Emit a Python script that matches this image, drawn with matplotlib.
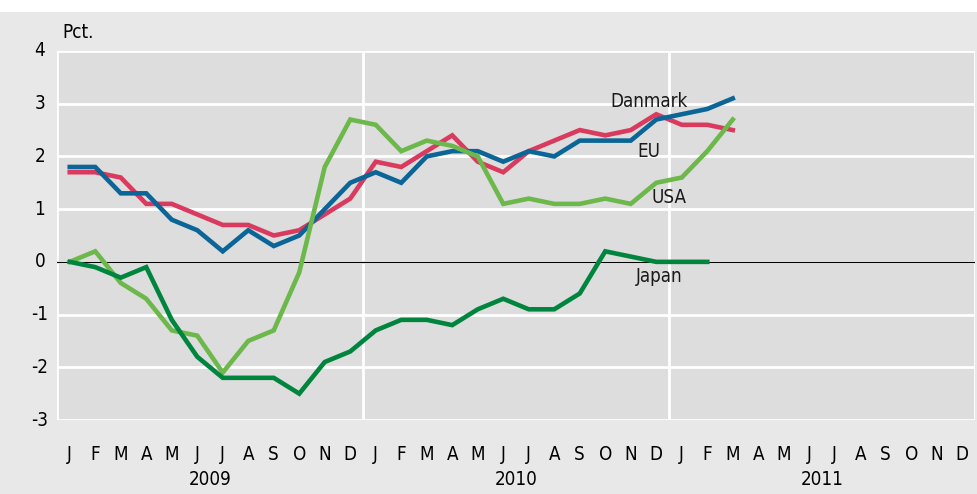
import matplotlib
matplotlib.use("Agg")
import matplotlib.pyplot as plt
from matplotlib.patches import Rectangle
import matplotlib.transforms as mtransforms

plt.rcParams['font.family'] = ['DejaVu Sans']
plt.rcParams['font.stretch'] = 'condensed'

months = ["J", "F", "M", "A", "M", "J", "J", "A", "S", "O", "N", "D"] * 3
years = ["2009", "2010", "2011"]
yticks = [-3, -2, -1, 0, 1, 2, 3, 4]

danmark = [1.7, 1.7, 1.6, 1.1, 1.1, 0.9, 0.7, 0.7, 0.5, 0.6, 0.9, 1.2,
           1.9, 1.8, 2.1, 2.4, 1.9, 1.7, 2.1, 2.3, 2.5, 2.4, 2.5, 2.8,
           2.6, 2.6, 2.5]
eu = [1.8, 1.8, 1.3, 1.3, 0.8, 0.6, 0.2, 0.6, 0.3, 0.5, 1.0, 1.5,
      1.7, 1.5, 2.0, 2.1, 2.1, 1.9, 2.1, 2.0, 2.3, 2.3, 2.3, 2.7,
      2.8, 2.9, 3.1]
usa = [0.0, 0.2, -0.4, -0.7, -1.3, -1.4, -2.1, -1.5, -1.3, -0.2, 1.8, 2.7,
       2.6, 2.1, 2.3, 2.2, 2.0, 1.1, 1.2, 1.1, 1.1, 1.2, 1.1, 1.5,
       1.6, 2.1, 2.7]
japan = [0.0, -0.1, -0.3, -0.1, -1.1, -1.8, -2.2, -2.2, -2.2, -2.5, -1.9, -1.7,
         -1.3, -1.1, -1.1, -1.2, -0.9, -0.7, -0.9, -0.9, -0.6, 0.2, 0.1, 0.0,
         0.0, 0.0]

series = [
    ("Danmark", danmark, "#d93a5e"),
    ("EU", eu, "#0b6597"),
    ("USA", usa, "#6cb84b"),
    ("Japan", japan, "#00853f"),
]
labels_pos = {"Danmark": (22.7, 3.05), "EU": (22.7, 2.1), "USA": (23.5, 1.22), "Japan": (23.1, -0.28)}

fig = plt.figure(figsize=(9.78, 4.94), dpi=100, facecolor="white")
fig.patches.append(Rectangle((0, 0), 1, 1 - 12 / 494, transform=fig.transFigure,
                             facecolor="#e8e8e8", edgecolor="none", zorder=-10))

ax = fig.add_axes([57 / 978, 1 - 420 / 494, (975 - 57) / 978, (420 - 51) / 494])
ax.set_facecolor("#dddddd")
ax.set_xlim(-0.5, 35.5)
ax.set_ylim(-3, 4)

for y in yticks:
    ax.axhline(y, color="white", lw=2, zorder=1)
for xv in [-0.5, 11.5, 23.5, 35.5]:
    ax.axvline(xv, color="white", lw=2, zorder=1)
ax.axhline(0, color="black", lw=0.9, zorder=2)

for name, vals, col in series:
    ax.plot(range(len(vals)), vals, color=col, lw=3.3, zorder=3, solid_joinstyle="miter")
    lx, ly = labels_pos[name]
    ax.text(lx, ly, name, fontsize=13.5, color="#1a1a1a", ha="center", va="center", zorder=4)

for s in ax.spines.values():
    s.set_visible(False)

ax.set_yticks(yticks)
ax.set_yticklabels([])
trans = mtransforms.blended_transform_factory(fig.transFigure, ax.transData)
for v in yticks:
    fig.text(40 / 978, v, str(v), transform=trans, fontsize=13.5, ha="center", va="center")

ax.set_xticks(range(36))
ax.set_xticklabels(months, fontsize=13.5)
ax.tick_params(length=0)
ax.tick_params(axis="x", pad=18)

for i, yr in enumerate(years):
    ax.text(5.5 + 12 * i, -4.13, yr, fontsize=13.5, ha="center", va="center",
            clip_on=False)

fig.text(62 / 978, 1 - 32 / 494, "Pct.", fontsize=13.5, ha="left", va="center")

fig.savefig("out.png", dpi=100, facecolor=fig.get_facecolor())
